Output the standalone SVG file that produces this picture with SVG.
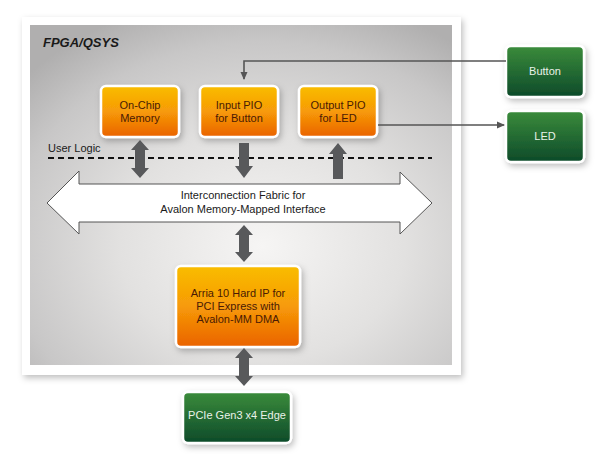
<svg xmlns="http://www.w3.org/2000/svg" width="600" height="454" viewBox="0 0 600 454">
<defs>
<radialGradient id="bg" cx="0.55" cy="0.65" r="0.75">
<stop offset="0" stop-color="#f6f5f4"/>
<stop offset="0.45" stop-color="#e2e1e0"/>
<stop offset="0.8" stop-color="#c8c7c7"/>
<stop offset="1" stop-color="#b0afaf"/>
</radialGradient>
<linearGradient id="org" x1="0" y1="0" x2="0" y2="1">
<stop offset="0" stop-color="#f9bd00"/>
<stop offset="0.5" stop-color="#f79a08"/>
<stop offset="1" stop-color="#ea6200"/>
</linearGradient>
<linearGradient id="grn" x1="0" y1="0" x2="0" y2="1">
<stop offset="0" stop-color="#3b8c3b"/>
<stop offset="1" stop-color="#0d4a2a"/>
</linearGradient>
<filter id="sh" x="-20%" y="-20%" width="140%" height="140%">
<feDropShadow dx="2" dy="3" stdDeviation="3" flood-color="#000" flood-opacity="0.25"/>
</filter>
<marker id="ah" markerWidth="8" markerHeight="8" refX="7" refY="4" orient="auto" markerUnits="userSpaceOnUse">
<path d="M0,0.5 L8,4 L0,7.5 Z" fill="#555"/>
</marker>
</defs>
<style>
.org{fill:url(#org);stroke:#fff;stroke-width:2.5;filter:url(#sh)}
.grn{fill:url(#grn);stroke:#fff;stroke-width:2.5;filter:url(#sh)}
.ot{font-family:"Liberation Sans",Arial,sans-serif;font-size:11px;fill:#4a1a05;text-anchor:middle}
.gt{font-family:"Liberation Sans",Arial,sans-serif;font-size:11px;fill:#e9f2e9;text-anchor:middle}
.bt{font-family:"Liberation Sans",Arial,sans-serif;font-size:11px;fill:#1a1a1a;text-anchor:middle}
.thick{fill:#58595b}
.wire{fill:none;stroke:#555;stroke-width:1.6}
</style>

<g id="fpga">
<rect x="22" y="17" width="439" height="358" fill="#fff" filter="url(#sh)"/>
<rect x="30" y="25" width="422" height="340" fill="url(#bg)"/>
<text x="43" y="47" font-family="Liberation Sans,Arial,sans-serif" font-size="13" font-weight="bold" font-style="italic" fill="#1a1a1a">FPGA/QSYS</text>
<text x="48" y="152" font-family="Liberation Sans,Arial,sans-serif" font-size="11" fill="#1a1a1a">User Logic</text>
<line x1="48" y1="158" x2="432" y2="158" stroke="#111" stroke-width="2" stroke-dasharray="6,4"/>
</g>

<g id="onchip">
<rect class="org" x="101" y="86" width="78" height="51" rx="5"/>
<text class="ot" x="140" y="109">On-Chip</text>
<text class="ot" x="140" y="122">Memory</text>
</g>

<g id="inputpio">
<rect class="org" x="200" y="86" width="78" height="51" rx="5"/>
<text class="ot" x="239" y="109">Input PIO</text>
<text class="ot" x="239" y="122">for Button</text>
</g>

<g id="outputpio">
<rect class="org" x="299" y="86" width="78" height="51" rx="5"/>
<text class="ot" x="338" y="109">Output PIO</text>
<text class="ot" x="338" y="122">for LED</text>
</g>

<g id="button">
<rect class="grn" x="506" y="46" width="78" height="51" rx="5"/>
<text class="gt" x="545" y="75">Button</text>
</g>

<g id="led">
<rect class="grn" x="506" y="111" width="78" height="51" rx="5"/>
<text class="gt" x="545" y="140">LED</text>
</g>

<g id="fabric">
<path d="M47,203 L79,171 L79,184 L400,184 L400,172 L432,203 L400,234 L400,222 L79,222 L79,234 Z" fill="#fff" stroke="#555" stroke-width="1"/>
<text class="bt" x="243" y="199">Interconnection Fabric for</text>
<text class="bt" x="243" y="213">Avalon Memory-Mapped Interface</text>
</g>

<g id="arria">
<rect class="org" x="176" y="266" width="124" height="81" rx="5"/>
<text class="ot" x="238" y="297">Arria 10 Hard IP for</text>
<text class="ot" x="238" y="310">PCI Express with</text>
<text class="ot" x="238" y="323">Avalon-MM DMA</text>
</g>

<g id="pcie">
<rect class="grn" x="183" y="392" width="108" height="51" rx="5"/>
<text class="gt" x="237" y="419">PCIe Gen3 x4 Edge</text>
</g>

<g id="connectors">
<path class="wire" d="M506,61 L244,61 L244,79" marker-end="url(#ah)"/>
<path class="wire" d="M378,125 L504,125" marker-end="url(#ah)"/>
<path class="thick" d="M140,140 L149,150 L145,150 L145,168 L149,168 L140,178 L131,168 L135,168 L135,150 L131,150 Z"/>
<path class="thick" d="M239,143 L249,143 L249,166 L253,166 L244,178 L235,166 L239,166 Z"/>
<path class="thick" d="M338,143 L347,154 L343,154 L343,179 L333,179 L333,154 L329,154 Z"/>
<path class="thick" d="M244,225 L253,235 L249,235 L249,252 L253,252 L244,262 L235,252 L239,252 L239,235 L235,235 Z"/>
<path class="thick" d="M244,348 L253,358 L249,358 L249,376 L253,376 L244,386 L235,376 L239,376 L239,358 L235,358 Z"/>
</g>
</svg>
